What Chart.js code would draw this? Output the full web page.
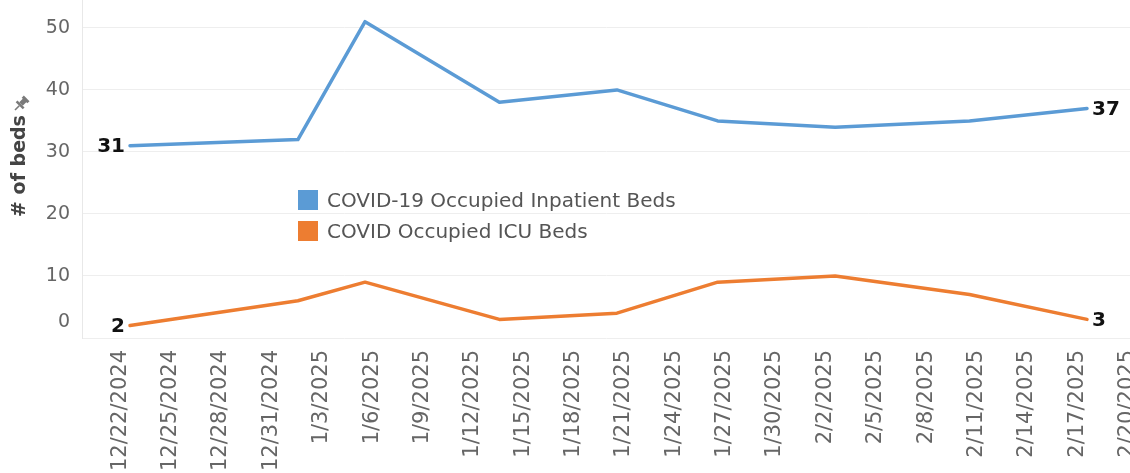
<!DOCTYPE html>
<html><head><meta charset="utf-8">
<script src="https://cdn.jsdelivr.net/npm/chart.js@4"></script>
<style>
html,body{margin:0;padding:0;background:#fff;}
#wrap{position:relative;width:1130px;height:473px;overflow:hidden;}
#legend{position:absolute;left:298px;top:184px;font-family:"DejaVu Sans";font-size:20px;color:#555;}
.item{display:flex;align-items:center;height:31px;white-space:nowrap;}
.sw{width:20px;height:20px;margin-right:9px;flex:none;}
</style></head><body>
<div id="wrap"><canvas id="c" width="1130" height="473"></canvas><div id="legend"></div></div>
<script>
// ---- data ----
const dates = ['2024-12-23','2025-01-02','2025-01-06','2025-01-14','2025-01-21','2025-01-27','2025-02-03','2025-02-11','2025-02-18'];
const inpatientBeds = [31, 32, 51, 38, 40, 35, 34, 35, 37];
const icuBeds = [2, 6, 9, 3, 4, 9, 10, 7, 3];
const seriesNames = ['COVID-19 Occupied Inpatient Beds', 'COVID Occupied ICU Beds'];
const seriesColors = ['#5b9bd5', '#ed7d31'];
const yTickValues = [0, 10, 20, 30, 40, 50];
const xTickFirst = '2024-12-22';
const xTickLast = '2025-02-20';
const xTickStepDays = 3;
const yAxisTitle = '# of beds';

// ---- helpers ----
const DAY = 86400000;
const base = Date.parse(xTickFirst + 'T00:00:00Z');
const toDay = s => (Date.parse(s + 'T00:00:00Z') - base) / DAY;
const fmt = d => { const t = new Date(base + Math.round(d) * DAY); return (t.getUTCMonth() + 1) + '/' + t.getUTCDate() + '/' + t.getUTCFullYear(); };
const xTickValues = [];
for (let d = 0; d <= toDay(xTickLast); d += xTickStepDays) xTickValues.push(d);

const FONT = 'DejaVu Sans';
const series = [inpatientBeds, icuBeds];

const labelPlugin = {
  id: 'endLabels',
  afterDatasetsDraw(chart) {
    const ctx = chart.ctx;
    ctx.save();
    ctx.font = 'bold 20px "' + FONT + '"';
    ctx.fillStyle = '#111';
    ctx.textBaseline = 'middle';
    chart.data.datasets.forEach((ds, i) => {
      const pts = chart.getDatasetMeta(i).data;
      const n = pts.length - 1;
      ctx.textAlign = 'right';
      ctx.fillText(String(ds.data[0].y), pts[0].x - 5, pts[0].y + 1);
      ctx.textAlign = 'left';
      ctx.fillText(String(ds.data[n].y), pts[n].x + 5, pts[n].y + 1);
    });
    ctx.restore();
  },
  afterDraw(chart) {
    const ctx = chart.ctx, y = chart.scales.y, area = chart.chartArea;
    ctx.save();
    // zero label nudged up as in reference
    ctx.font = '19px "' + FONT + '"';
    ctx.fillStyle = '#666';
    ctx.textAlign = 'right';
    ctx.textBaseline = 'middle';
    ctx.fillText('0', area.left - 12, y.getPixelForValue(0) - 16);
    // axis title
    ctx.translate(20, 166);
    ctx.rotate(-Math.PI / 2);
    ctx.font = 'bold 19px "' + FONT + '"';
    ctx.fillStyle = '#444';
    ctx.textAlign = 'center';
    ctx.fillText(yAxisTitle, 0, 0);
    ctx.restore();
    // pin icon
    ctx.save();
    ctx.translate(21, 104);
    ctx.rotate(Math.PI / 4);
    ctx.fillStyle = '#7a7a7a';
    ctx.fillRect(-4, -8, 8, 3);
    ctx.fillRect(-2.5, -6, 5, 6);
    ctx.fillRect(-5, 0, 10, 2.5);
    ctx.fillRect(-0.8, 2.5, 1.6, 6);
    ctx.restore();
  }
};

const chart = new Chart(document.getElementById('c'), {
  type: 'line',
  data: {
    datasets: series.map((vals, i) => ({
      label: seriesNames[i],
      data: vals.map((v, k) => ({ x: toDay(dates[k]), y: v })),
      borderColor: seriesColors[i],
      backgroundColor: seriesColors[i],
      borderWidth: 3.5,
      pointRadius: 0,
      tension: 0,
      borderJoinStyle: 'round',
      borderCapStyle: 'round'
    }))
  },
  options: {
    responsive: false,
    animation: false,
    layout: { padding: 0 },
    plugins: { legend: { display: false }, tooltip: { enabled: false } },
    scales: {
      x: {
        type: 'linear',
        min: -1.86,
        max: 60.56,
        grid: { display: false, drawTicks: false },
        border: { display: false },
        afterBuildTicks: s => { s.ticks = xTickValues.map(v => ({ value: v })); },
        ticks: {
          autoSkip: false, maxRotation: 90, minRotation: 90, padding: 12, labelOffset: 7,
          color: '#666', font: { family: FONT, size: 21 },
          callback: v => fmt(v)
        },
        afterFit: s => { s.height = 135; s.paddingLeft = 0; s.paddingRight = 0; }
      },
      y: {
        min: 0,
        max: 54.5,
        grid: { color: '#eeeeee', drawTicks: false, lineWidth: 1 },
        border: { display: true, color: '#e8e8e8' },
        afterBuildTicks: s => { s.ticks = yTickValues.map(v => ({ value: v })); },
        ticks: {
          padding: 12, color: '#666', font: { family: FONT, size: 19 },
          callback: v => v === 0 ? '' : String(v)
        },
        afterFit: s => { s.width = 82; s.paddingTop = 0; s.paddingBottom = 0; }
      }
    }
  },
  plugins: [labelPlugin]
});

// HTML legend built from datasets
const lg = document.getElementById('legend');
chart.data.datasets.forEach(ds => {
  const it = document.createElement('div'); it.className = 'item';
  const sw = document.createElement('span'); sw.className = 'sw'; sw.style.background = ds.borderColor;
  const tx = document.createElement('span'); tx.textContent = ds.label;
  it.appendChild(sw); it.appendChild(tx); lg.appendChild(it);
});
</script>
</body></html>
